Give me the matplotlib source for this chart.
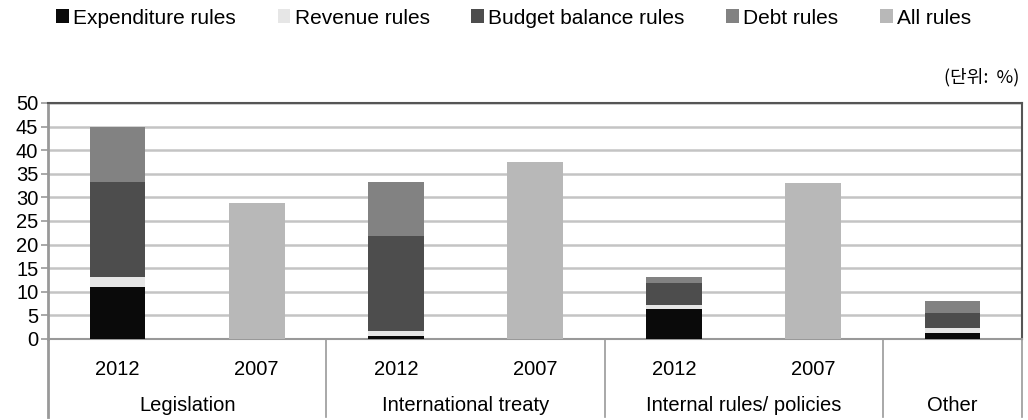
import matplotlib.pyplot as plt
import matplotlib.transforms as mtransforms
from matplotlib.patches import Patch
import numpy as np

plt.rcParams['font.family'] = ['Liberation Sans', 'DejaVu Sans']

GROUPS = ['Legislation', 'International treaty', 'Internal rules/ policies', 'Other']
GROUP_CENTERS = [0.5, 2.5, 4.5, 6]
YEARS = ['2012', '2007', '2012', '2007', '2012', '2007', '']

expenditure = [11.1, 0, 0.6, 0, 6.3, 0, 1.3]
revenue = [2.1, 0, 1.1, 0, 0.9, 0, 1.0]
budget_balance = [20.0, 0, 20.1, 0, 4.7, 0, 3.3]
debt = [11.8, 0, 11.5, 0, 1.2, 0, 2.5]
all_rules = [0, 28.9, 0, 37.4, 0, 33.1, 0]

series = [
    ('Expenditure rules', expenditure, '#0a0a0a'),
    ('Revenue rules', revenue, '#e6e6e6'),
    ('Budget balance rules', budget_balance, '#4d4d4d'),
    ('Debt rules', debt, '#828282'),
    ('All rules', all_rules, '#b8b8b8'),
]

fig = plt.figure(figsize=(10.28, 4.2), dpi=100)
ax = fig.add_axes([48 / 1028, 1 - 339 / 420, 974 / 1028, 236 / 420])

x = np.arange(len(YEARS))
bottom = np.zeros(len(YEARS))
for name, vals, color in series:
    vals = np.array(vals, dtype=float)
    ax.bar(x, vals, width=0.4, bottom=bottom, color=color, zorder=3, linewidth=0)
    bottom += vals

ax.set_xlim(-0.5, 6.5)
ax.set_ylim(0, 50)
ax.set_yticks(range(0, 51, 5))
ax.yaxis.grid(True, color='#c4c4c4', linewidth=1.8, zorder=0)
ax.set_axisbelow(True)
ax.tick_params(axis='y', labelsize=14.5, length=5, width=1.2, color='#999999', pad=2)
ax.set_xticks(x)
ax.set_xticklabels(YEARS)
ax.tick_params(axis='x', labelsize=14.5, length=0, pad=15)

for side in ['top', 'right']:
    ax.spines[side].set_color('#555555')
    ax.spines[side].set_linewidth(1.5)
ax.spines['left'].set_color('#999999')
ax.spines['left'].set_linewidth(2)
ax.spines['bottom'].set_color('#999999')
ax.spines['bottom'].set_linewidth(1.5)

# group separators below the axis
trans = mtransforms.blended_transform_factory(ax.transData, ax.transAxes)
for xs in [-0.5, 1.5, 3.5, 5.5, 6.5]:
    lw = 2 if xs == -0.5 else 1.2
    ax.plot([xs, xs], [0, -0.33], transform=trans, color='#999999',
            linewidth=lw, clip_on=False)
for name, xc in zip(GROUPS, GROUP_CENTERS):
    ax.text(xc, -0.28, name, transform=trans, ha='center', va='center', fontsize=14.5)

ax.text(0.997, 1.11, '(단위:  %)', transform=ax.transAxes, ha='right', va='center',
        fontsize=13, family=['Noto Sans CJK KR', 'DejaVu Sans'])

handles = [Patch(facecolor=c, edgecolor='none') for _, _, c in series]
labels = [n for n, _, _ in series]
fig.legend(handles, labels, loc='center left', bbox_to_anchor=(56 / 1028, 1 - 18 / 420),
           ncol=5, frameon=False, fontsize=15, handlelength=0.62, handleheight=0.62,
           handletextpad=0.2, columnspacing=2.0, borderpad=0, borderaxespad=0)

fig.savefig('out.png', dpi=100)
